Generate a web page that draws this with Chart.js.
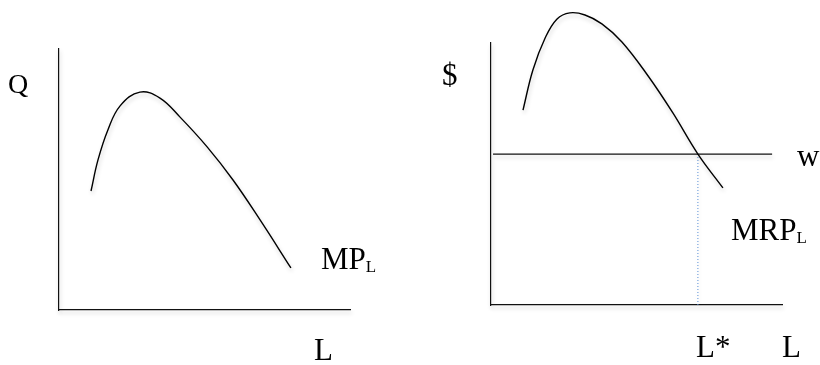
<!DOCTYPE html>
<html>
<head>
<meta charset="utf-8">
<script src="https://cdn.jsdelivr.net/npm/chart.js@4.4.1/dist/chart.umd.min.js"></script>
<style>
  html, body { margin: 0; padding: 0; background: #fff; }
  .panel { position: absolute; top: 0; width: 410px; height: 365px; }
  #left { left: 0; }
  #right { left: 410px; }
</style>
</head>
<body>
<div class="panel" id="left"><canvas id="mpChart" width="410" height="365"></canvas></div>
<div class="panel" id="right"><canvas id="mrpChart" width="410" height="365"></canvas></div>
<script>
// left panel: marginal product of labour (hand drawn curve)
const mpX = [1.10, 1.34, 1.68, 2.10, 2.78, 3.47, 4.16, 5.09, 5.98, 6.91, 7.97];
const mpY = [4.56, 5.75, 6.90, 7.82, 8.35, 8.12, 7.39, 6.25, 4.98, 3.45, 1.61];

// right panel: marginal revenue product, wage line and L*
const mrpX = [1.10, 1.44, 1.86, 2.27, 2.71, 3.23, 3.81, 4.50, 5.40, 6.25, 7.11, 7.97];
const mrpY = [7.44, 8.97, 10.19, 10.92, 11.15, 11.07, 10.73, 10.04, 8.74, 7.33, 5.76, 4.47];
const wageX = [0.07, 9.66];
const wage = 5.76;
const lStar = 7.11;

const leftLabels = { y: 'Q', x: 'L', curve: 'MP', curveSub: 'L' };
const rightLabels = { y: '$', x: 'L', curve: 'MRP', curveSub: 'L', wage: 'w', star: 'L*' };

const serif = '"Liberation Serif", "Times New Roman", serif';

function toPoints(xs, ys) {
    return xs.map((x, i) => ({x: x, y: ys[i]}));
}

// hide ticks, keep only the axis line
function axis(horizontal) {
    return {
        type: 'linear',
        min: 0,
        max: 10,
        grid: {display: false},
        ticks: {display: false},
        border: {display: true, color: '#111', width: 1.2},
        afterFit: function (s) {
            if (horizontal) s.height = 0; else s.width = 0;
        }
    };
}

// soft drop shadow like the original drawing
const shadowPlugin = {
    id: 'shadow',
    beforeDraw(chart) {
        const ctx = chart.ctx;
        ctx.save();
        ctx.shadowColor = 'rgba(0,0,0,0.2)';
        ctx.shadowBlur = 4;
        ctx.shadowOffsetX = 1;
        ctx.shadowOffsetY = 3;
    },
    afterDatasetsDraw(chart) {
        chart.ctx.restore();
    }
};

// text labels: {text, sub, x, y, size}
const textPlugin = {
    id: 'texts',
    afterDraw(chart, args, opts) {
        const ctx = chart.ctx;
        ctx.save();
        ctx.fillStyle = '#000';
        ctx.textBaseline = 'alphabetic';
        ctx.textAlign = 'left';
        (opts.items || []).forEach(function (it) {
            ctx.font = it.size + 'px ' + serif;
            ctx.fillText(it.text, it.x, it.y);
            if (it.sub) {
                const w = ctx.measureText(it.text).width;
                ctx.font = Math.round(it.size * 0.55) + 'px ' + serif;
                ctx.fillText(it.sub, it.x + w, it.y + 3);
            }
        });
        ctx.restore();
    }
};

function baseOptions(padding, items) {
    return {
        responsive: false,
        animation: false,
        layout: {padding: padding},
        scales: {x: axis(true), y: axis(false)},
        plugins: {
            legend: {display: false},
            tooltip: {enabled: false},
            texts: {items: items}
        }
    };
}

new Chart(document.getElementById('mpChart').getContext('2d'), {
    type: 'scatter',
    data: {
        datasets: [{
            data: toPoints(mpX, mpY),
            showLine: true,
            borderColor: '#000',
            borderWidth: 1.4,
            pointRadius: 0,
            tension: 0.4,
            clip: false
        }]
    },
    options: baseOptions({left: 59, top: 49, right: 60, bottom: 55}, [
        {text: leftLabels.y, x: 8, y: 93, size: 28},
        {text: leftLabels.curve, sub: leftLabels.curveSub, x: 321, y: 269, size: 31},
        {text: leftLabels.x, x: 314, y: 360, size: 31}
    ]),
    plugins: [shadowPlugin, textPlugin]
});

new Chart(document.getElementById('mrpChart').getContext('2d'), {
    type: 'scatter',
    data: {
        datasets: [{
            data: toPoints(mrpX, mrpY),
            showLine: true,
            borderColor: '#000',
            borderWidth: 1.4,
            pointRadius: 0,
            tension: 0.4,
            clip: false
        }, {
            data: toPoints(wageX, [wage, wage]),
            showLine: true,
            borderColor: '#111',
            borderWidth: 1.2,
            pointRadius: 0,
            clip: false
        }, {
            data: toPoints([lStar, lStar], [0, wage]),
            showLine: true,
            borderColor: '#5b8fd6',
            borderWidth: 1,
            borderDash: [1, 2],
            pointRadius: 0,
            clip: false
        }]
    },
    options: baseOptions({left: 81, top: 43, right: 38, bottom: 60}, [
        {text: rightLabels.y, x: 32, y: 85, size: 31},
        {text: rightLabels.wage, x: 387, y: 166, size: 31},
        {text: rightLabels.curve, sub: rightLabels.curveSub, x: 321, y: 240, size: 31},
        {text: rightLabels.star, x: 286, y: 357, size: 31},
        {text: rightLabels.x, x: 372, y: 357, size: 31}
    ]),
    plugins: [shadowPlugin, textPlugin]
});
</script>
</body>
</html>
